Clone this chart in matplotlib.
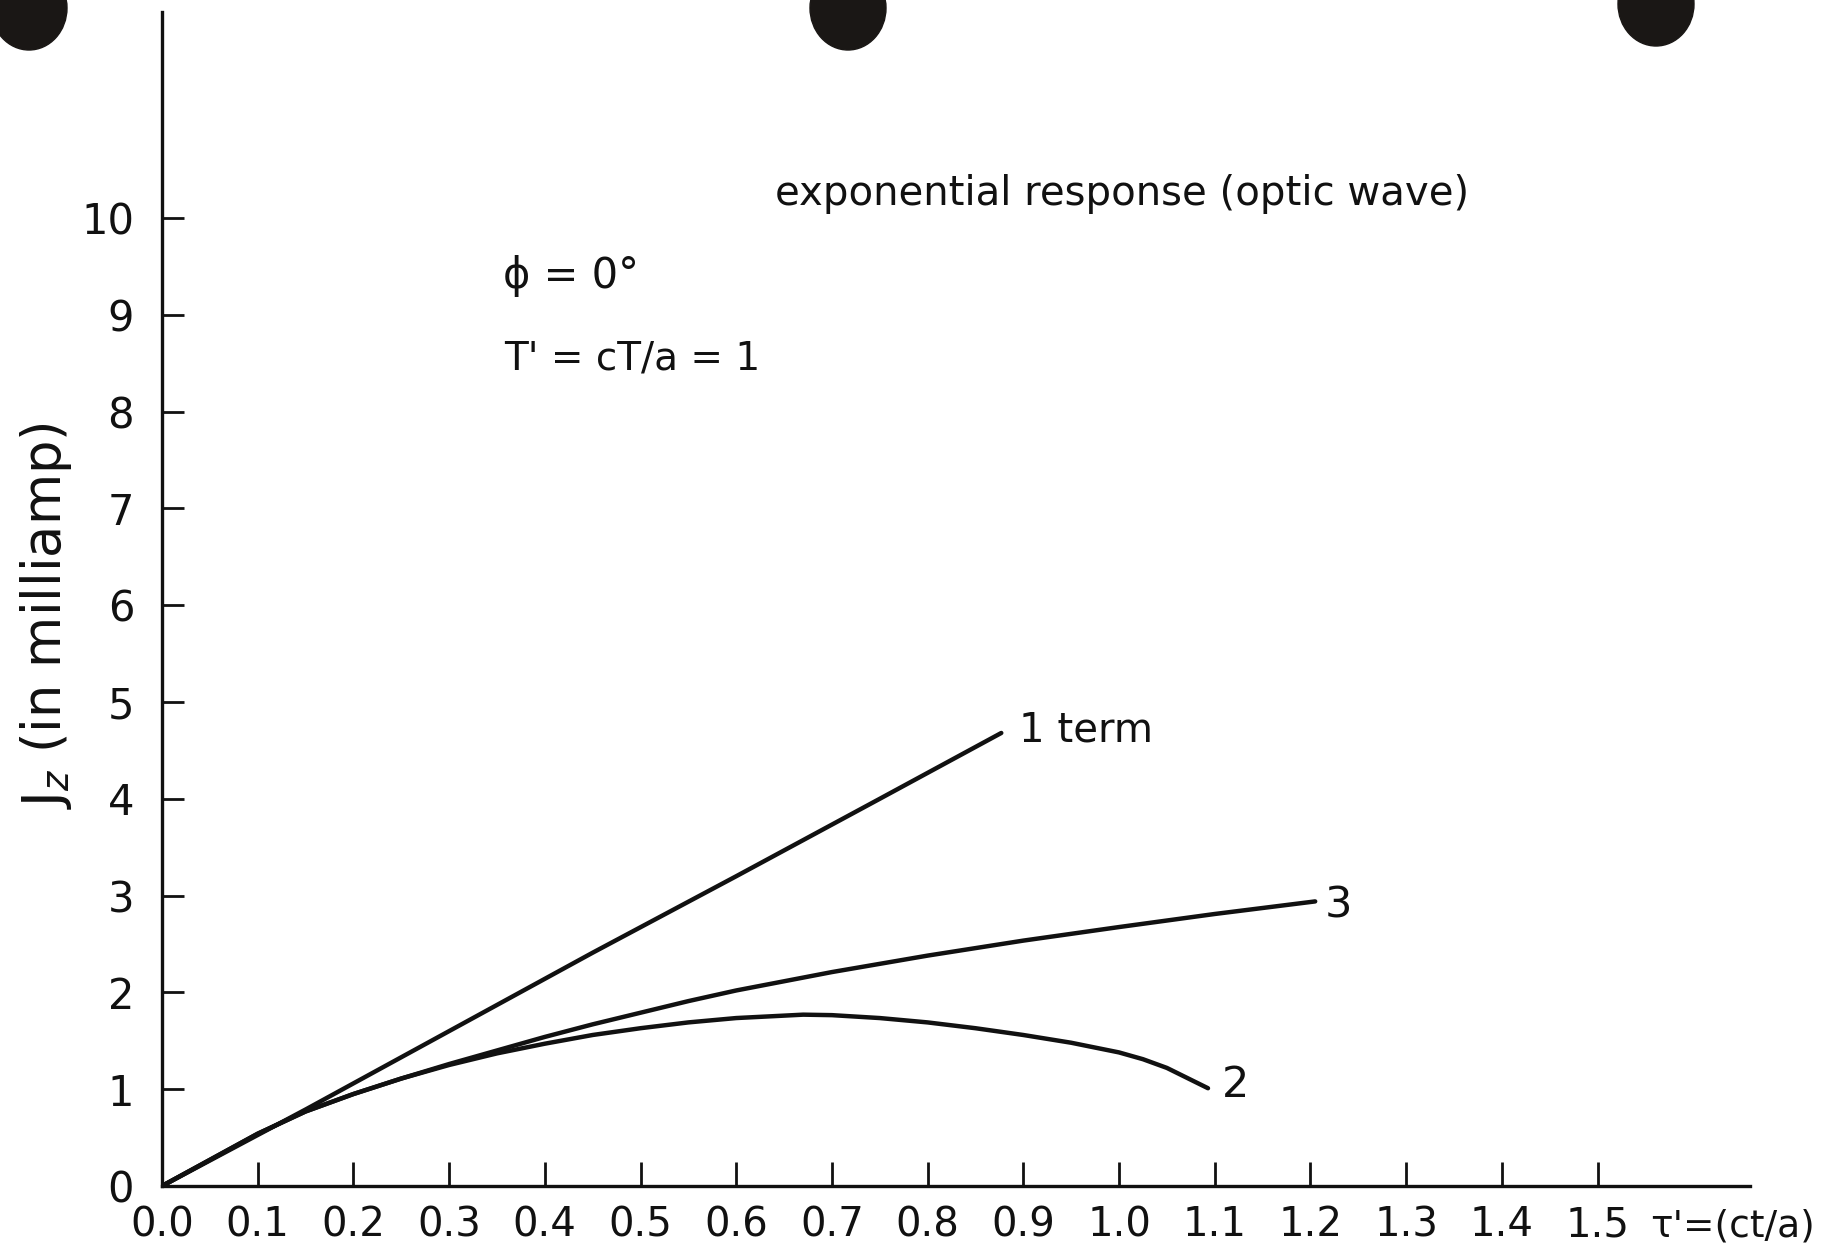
import matplotlib
matplotlib.use("Agg")
import matplotlib.pyplot as plt
from matplotlib.patches import Ellipse

plt.rcParams['font.family'] = ['DejaVu Sans']

# ---- data ----
one_term_x = [0.0, 0.15, 0.3, 0.45, 0.6, 0.75, 0.877]
one_term_y = [0.0, 0.79, 1.60, 2.41, 3.20, 4.00, 4.68]

three_x = [0.0, 0.1, 0.15, 0.2, 0.25, 0.3, 0.35, 0.4, 0.45, 0.5, 0.55, 0.6,
           0.7, 0.8, 0.9, 1.0, 1.1, 1.205]
three_y = [0.0, 0.54, 0.77, 0.95, 1.11, 1.26, 1.40, 1.54, 1.67, 1.79, 1.91, 2.02,
           2.21, 2.38, 2.535, 2.675, 2.81, 2.94]

two_x = [0.0, 0.1, 0.15, 0.2, 0.25, 0.3, 0.35, 0.4, 0.45, 0.5, 0.55, 0.6, 0.67,
         0.7, 0.75, 0.8, 0.85, 0.9, 0.95, 1.0, 1.025, 1.05, 1.093]
two_y = [0.0, 0.54, 0.77, 0.95, 1.11, 1.25, 1.37, 1.47, 1.56, 1.63, 1.69, 1.735, 1.77,
         1.765, 1.735, 1.69, 1.63, 1.56, 1.48, 1.38, 1.31, 1.22, 1.01]

x_ticks = [0.0, 0.1, 0.2, 0.3, 0.4, 0.5, 0.6, 0.7, 0.8, 0.9, 1.0, 1.1, 1.2, 1.3, 1.4, 1.5]
x_tick_labels = ["0.0", "0.1", "0.2", "0.3", "0.4", "0.5", "0.6", "0.7",
                 "0.8", "0.9", "1.0", "1.1", "1.2", "1.3", "1.4", "1.5"]
y_ticks = [0, 1, 2, 3, 4, 5, 6, 7, 8, 9, 10]
y_tick_labels = ["0", "1", "2", "3", "4", "5", "6", "7", "8", "9", "10"]

title_text = "exponential response (optic wave)"
phi_text = "ϕ = 0°"
period_text = "T' = cT/a = 1"
curve_labels = ["1 term", "3", "2"]
x_label_text = "τ'=(ct/a)"
y_label_text = r"J$_z$ (in milliamp)"

# ---- figure ----
W, H = 1842, 1246
fig = plt.figure(figsize=(W / 100, H / 100), dpi=100)
fig.patch.set_facecolor("white")

x0, y0 = 162, 1186
x1, ytop = 1750, 12
ax = fig.add_axes([x0 / W, (H - y0) / H, (x1 - x0) / W, (y0 - ytop) / H])
ax.set_xlim(0, (x1 - x0) / 957.0)
ax.set_ylim(0, (y0 - ytop) / 96.8)

ink = "#111111"
lw = 3.2
for xs, ys in [(one_term_x, one_term_y), (three_x, three_y), (two_x, two_y)]:
    ax.plot(xs, ys, color=ink, lw=lw, solid_capstyle="round",
            solid_joinstyle="round")

for s in ["top", "right"]:
    ax.spines[s].set_visible(False)
for s in ["left", "bottom"]:
    ax.spines[s].set_linewidth(2.4)
    ax.spines[s].set_color(ink)

ax.set_xticks(x_ticks)
ax.set_xticklabels(x_tick_labels)
ax.set_yticks(y_ticks)
ax.set_yticklabels(y_tick_labels)
ax.tick_params(axis="x", direction="in", length=17, width=2, color=ink,
               labelsize=29, pad=14, labelcolor=ink)
ax.tick_params(axis="y", direction="in", length=16, width=2, color=ink,
               labelsize=30, pad=20, labelcolor=ink)

ax.set_ylabel(y_label_text, fontsize=38, color=ink)
ax.yaxis.set_label_coords(-(x0 - 74) / (x1 - x0), (y0 - 616) / (y0 - ytop))

# annotations
ax.text(0.6405, 10.25, title_text, fontsize=29, color=ink, ha="left", va="center")
ax.text(0.356, 9.40, phi_text, fontsize=30, color=ink, ha="left", va="center")
ax.text(0.358, 8.55, period_text, fontsize=28, color=ink, ha="left", va="center")
ax.text(0.896, 4.71, curve_labels[0], fontsize=29, color=ink, ha="left", va="center")
ax.text(1.215, 2.90, curve_labels[1], fontsize=31, color=ink, ha="left", va="center")
ax.text(1.108, 1.04, curve_labels[2], fontsize=31, color=ink, ha="left", va="center")
ax.text(1.555, -0.42, x_label_text, fontsize=27, color=ink, ha="left", va="center",
        clip_on=False)

# punched holes of the scanned sheet (decoration)
for cx, cy in [(29, 8), (848, 8), (1656, 4)]:
    fig.patches.append(Ellipse((cx / W, 1 - cy / H), 76 / W, 84 / H,
                               transform=fig.transFigure, color="#1a1715", zorder=10))

fig.savefig("out.png", dpi=100, facecolor="white")
